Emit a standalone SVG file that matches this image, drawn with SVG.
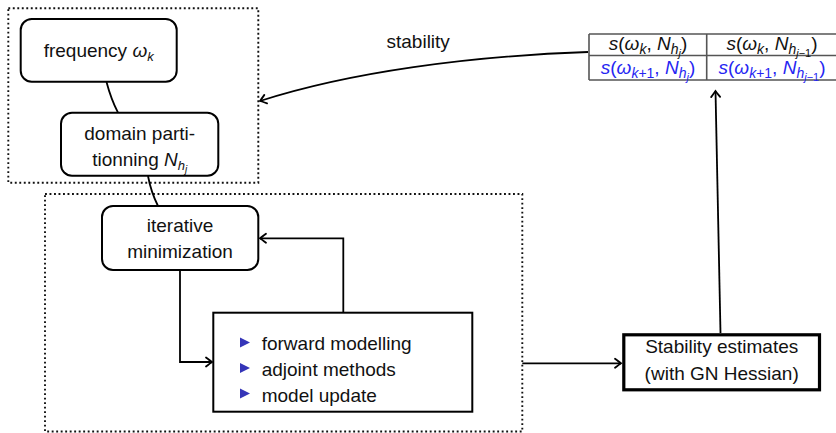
<svg xmlns="http://www.w3.org/2000/svg" width="836" height="433" viewBox="0 0 836 433">
  <style>
    text { font-family: "Liberation Sans", Arial, sans-serif; font-size: 19px; fill: #111; }
    .mid { text-anchor: middle; }
    .it { font-style: italic; }
    .blue { fill: #2626f2; }
    .box { fill: #fff; stroke: #000; stroke-width: 2; }
    .dots { fill: none; stroke: #111; stroke-width: 1.9; stroke-dasharray: 1.9 2.6; }
    .wire { fill: none; stroke: #000; stroke-width: 1.8; }
    .arrow { fill: none; stroke: #000; stroke-width: 1.8; marker-end: url(#tip); }
    .grid { fill: none; stroke: #555; stroke-width: 1.6; }
  </style>
  <defs>
    <marker id="tip" markerUnits="userSpaceOnUse" markerWidth="14" markerHeight="14" viewBox="-8 -7 10 14" refX="0" refY="0" orient="auto">
      <path d="M-6,-4.5 Q-1.5,-1 0,0 Q-1.5,1 -6,4.5" fill="none" stroke="#000" stroke-width="1.8" stroke-linecap="round"/>
    </marker>
  </defs>

  <!-- grouping frames -->
  <g id="frame-outer-loop">
    <rect class="dots" x="8.3" y="8.3" width="250" height="174.4"/>
  </g>
  <g id="frame-inner-loop">
    <rect class="dots" x="45" y="194" width="477.3" height="237.5"/>
  </g>

  <!-- connectors -->
  <g id="connectors">
    <path class="wire" d="M106.5,82 Q111,99 118,112.7"/>
    <path class="wire" d="M148,176 Q151,192 158,206"/>
    <path class="arrow" d="M180,270 V362 H212"/>
    <path class="arrow" d="M343.3,312.7 V238.3 H260"/>
    <path class="arrow" d="M522.3,363.3 H621"/>
    <path class="arrow" d="M720.5,333 L715.5,91"/>
    <path class="arrow" d="M588,52 C470,56 350,72 260,101"/>
    <text x="386.5" y="48">stability</text>
  </g>

  <g id="node-frequency">
    <rect class="box" x="20.7" y="19" width="156" height="62.7" rx="11"/>
    <text class="mid" x="98.7" y="57">frequency <tspan class="it">ω</tspan><tspan class="it" dy="4" font-size="13">k</tspan></text>
  </g>

  <g id="node-partitioning">
    <rect class="box" x="61" y="112.7" width="157.3" height="63" rx="11"/>
    <text class="mid" x="139.7" y="140">domain parti-</text>
    <text class="mid" x="139.7" y="166">tionning <tspan class="it">N</tspan><tspan class="it" dy="4" font-size="13">h</tspan><tspan class="it" dy="3" font-size="10">j</tspan></text>
  </g>

  <g id="node-minimization">
    <rect class="box" x="102" y="206" width="156.3" height="64" rx="11"/>
    <text class="mid" x="180" y="232">iterative</text>
    <text class="mid" x="180" y="258">minimization</text>
  </g>

  <g id="node-steps">
    <rect class="box" x="213.3" y="312.7" width="259" height="99"/>
    <path d="M240,337.5 L250,342.5 L240,347.5 Z" fill="#3535b8"/>
    <path d="M240,363 L250,368 L240,373 Z" fill="#3535b8"/>
    <path d="M240,388.5 L250,393.5 L240,398.5 Z" fill="#3535b8"/>
    <text x="261.7" y="350">forward modelling</text>
    <text x="261.7" y="375.5">adjoint methods</text>
    <text x="261.7" y="401.5">model update</text>
  </g>

  <g id="node-stability">
    <rect x="623.8" y="334.8" width="195.7" height="55" fill="#fff" stroke="#000" stroke-width="3.2"/>
    <text class="mid" x="721.7" y="353">Stability estimates</text>
    <text class="mid" x="721.7" y="380">(with GN Hessian)</text>
  </g>

  <g id="node-table">
    <rect x="589" y="34" width="250" height="46" fill="#fff"/>
    <path class="grid" d="M589,34 H840 M589,55.5 H840 M589,80 H840 M589,34 V80 M706.7,34 V80"/>
    <text class="mid" x="648" y="50"><tspan class="it">s</tspan>(<tspan class="it">ω</tspan><tspan class="it" dy="4" font-size="14">k</tspan><tspan dy="-4">, </tspan><tspan class="it">N</tspan><tspan class="it" dy="4" font-size="14">h</tspan><tspan class="it" dy="3" font-size="11">j</tspan><tspan dy="-7">)</tspan></text>
    <text class="mid" x="772" y="50"><tspan class="it">s</tspan>(<tspan class="it">ω</tspan><tspan class="it" dy="4" font-size="14">k</tspan><tspan dy="-4">, </tspan><tspan class="it">N</tspan><tspan class="it" dy="4" font-size="14">h</tspan><tspan dy="3" font-size="11"><tspan class="it">j</tspan>−1</tspan><tspan dy="-7">)</tspan></text>
    <text class="mid blue" x="648" y="74"><tspan class="it">s</tspan>(<tspan class="it">ω</tspan><tspan dy="4" font-size="14"><tspan class="it">k</tspan>+1</tspan><tspan dy="-4">, </tspan><tspan class="it">N</tspan><tspan class="it" dy="4" font-size="14">h</tspan><tspan class="it" dy="3" font-size="11">j</tspan><tspan dy="-7">)</tspan></text>
    <text class="mid blue" x="772" y="74"><tspan class="it">s</tspan>(<tspan class="it">ω</tspan><tspan dy="4" font-size="14"><tspan class="it">k</tspan>+1</tspan><tspan dy="-4">, </tspan><tspan class="it">N</tspan><tspan class="it" dy="4" font-size="14">h</tspan><tspan dy="3" font-size="11"><tspan class="it">j</tspan>−1</tspan><tspan dy="-7">)</tspan></text>
  </g>
</svg>
